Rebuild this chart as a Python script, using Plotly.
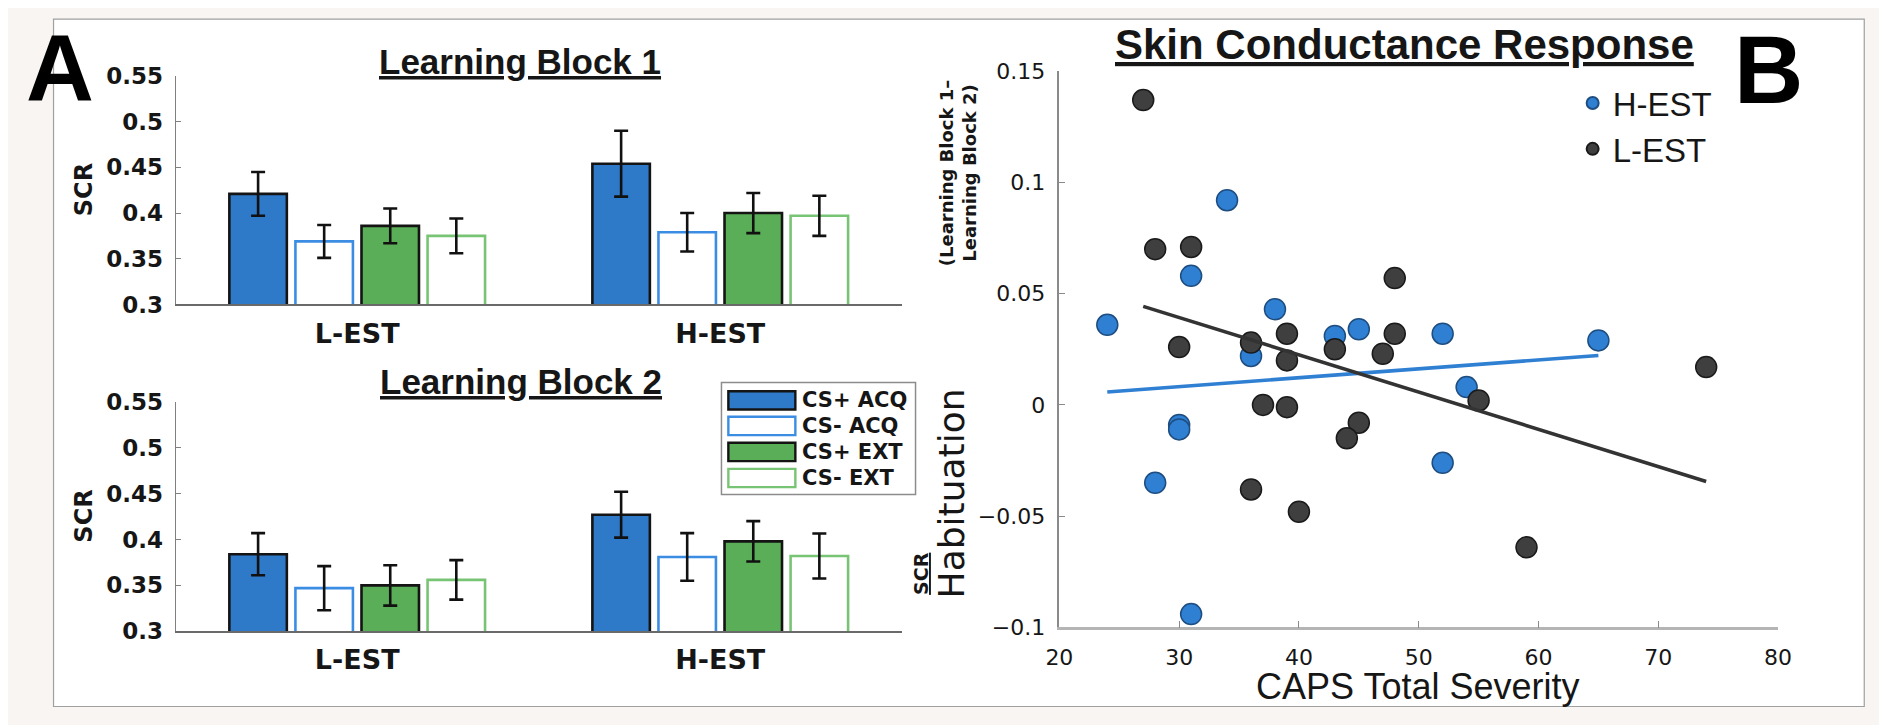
import plotly.graph_objects as go

W, H = 1887, 725
# the page body adds an 8px margin; positions below are given in window pixels
OFF_X, OFF_Y = 8, 8

# ---------------- data: panel A (bar chart) ----------------
groups = ["L-EST", "H-EST"]
group_pos = [1, 2]
conditions = ["CS+ ACQ", "CS- ACQ", "CS+ EXT", "CS- EXT"]

# Learning Block 1 (values for L-EST, H-EST)
b1_csp_acq = [0.421, 0.454]
b1_csm_acq = [0.369, 0.379]
b1_csp_ext = [0.386, 0.400]
b1_csm_ext = [0.375, 0.397]
b1_csp_acq_err = [0.024, 0.036]
b1_csm_acq_err = [0.018, 0.021]
b1_csp_ext_err = [0.019, 0.022]
b1_csm_ext_err = [0.019, 0.022]

# Learning Block 2
b2_csp_acq = [0.384, 0.427]
b2_csm_acq = [0.347, 0.381]
b2_csp_ext = [0.350, 0.398]
b2_csm_ext = [0.356, 0.382]
b2_csp_acq_err = [0.023, 0.025]
b2_csm_acq_err = [0.024, 0.026]
b2_csp_ext_err = [0.022, 0.022]
b2_csm_ext_err = [0.0215, 0.0245]

scr_ticks = [0.3, 0.35, 0.4, 0.45, 0.5, 0.55]
scr_ticktext = ["0.3", "0.35", "0.4", "0.45", "0.5", "0.55"]

# ---------------- data: panel B (scatter) ----------------
h_caps = [24, 34, 31, 38, 36, 43, 45, 52, 54, 30, 30, 28, 52, 65, 31]
h_hab = [0.036, 0.092, 0.058, 0.043, 0.022, 0.031, 0.034, 0.032, 0.008,
         -0.009, -0.011, -0.035, -0.026, 0.029, -0.094]
l_caps = [27, 28, 31, 30, 36, 39, 39, 43, 47, 48, 48, 55, 37, 39, 45, 44,
          36, 40, 59, 74]
l_hab = [0.137, 0.070, 0.071, 0.026, 0.028, 0.032, 0.020, 0.025, 0.023,
         0.032, 0.057, 0.002, 0.000, -0.001, -0.008, -0.015, -0.038,
         -0.048, -0.064, 0.017]
h_fit_caps = [24, 65]
h_fit_hab = [0.0058, 0.0222]
l_fit_caps = [27, 74]
l_fit_hab = [0.0443, -0.0344]

caps_ticks = [20, 30, 40, 50, 60, 70, 80]
hab_ticks = [-0.1, -0.05, 0, 0.05, 0.1, 0.15]
hab_ticktext = ["\u22120.1", "\u22120.05", "0", "0.05", "0.1", "0.15"]

# ---------------- styles ----------------
cond_fill = ["#2f79c9", "#ffffff", "#5aae57", "#ffffff"]
cond_edge = ["#141414", "#3b8de3", "#141414", "#78c475"]
blue = "#2f7fd3"
dark = "#3f3f3f"
TXT = "#161616"


def px(x):
    return (x - OFF_X) / W


def py(y):
    return 1 - (y - OFF_Y) / H


fig = go.Figure()

blocks = [
    ([b1_csp_acq, b1_csm_acq, b1_csp_ext, b1_csm_ext],
     [b1_csp_acq_err, b1_csm_acq_err, b1_csp_ext_err, b1_csm_ext_err], "x", "y"),
    ([b2_csp_acq, b2_csm_acq, b2_csp_ext, b2_csm_ext],
     [b2_csp_acq_err, b2_csm_acq_err, b2_csp_ext_err, b2_csm_ext_err], "x2", "y2"),
]
for means, errs, xa, ya in blocks:
    for i, cond in enumerate(conditions):
        fig.add_trace(go.Bar(
            x=group_pos, y=means[i], name=cond, showlegend=False,
            offsetgroup=str(i), xaxis=xa, yaxis=ya,
            marker=dict(color=cond_fill[i], line=dict(color=cond_edge[i], width=2.6)),
            error_y=dict(type="data", array=errs[i], color="#111111",
                         thickness=2.6, width=7),
        ))

fig.add_trace(go.Scatter(
    x=h_caps, y=h_hab, mode="markers", name="H-EST", xaxis="x3", yaxis="y3",
    marker=dict(size=21, color=blue, line=dict(color="#1e4d80", width=1.5)),
))
fig.add_trace(go.Scatter(
    x=l_caps, y=l_hab, mode="markers", name="L-EST", xaxis="x3", yaxis="y3",
    marker=dict(size=21, color=dark, line=dict(color="#1a1a1a", width=1.5)),
))
fig.add_trace(go.Scatter(
    x=h_fit_caps, y=h_fit_hab, mode="lines", showlegend=False, xaxis="x3", yaxis="y3",
    line=dict(color=blue, width=3.6),
))
fig.add_trace(go.Scatter(
    x=l_fit_caps, y=l_fit_hab, mode="lines", showlegend=False, xaxis="x3", yaxis="y3",
    line=dict(color="#333333", width=3.6),
))

bar_x_axis = dict(range=[0.5, 2.5], tickvals=group_pos, ticktext=groups,
                  showline=True, linecolor="#6a6a6a", linewidth=1.5, ticks="",
                  showgrid=False, zeroline=False, fixedrange=True,
                  ticklabelstandoff=4,
                  tickfont=dict(family="DejaVu Sans", size=27, color=TXT, weight="bold"))
bar_y_axis = dict(range=[0.3, 0.55], tickvals=scr_ticks, ticktext=scr_ticktext,
                  showline=True, linecolor="#808080", linewidth=1.2,
                  ticks="inside", ticklen=5, tickcolor="#808080",
                  showgrid=False, zeroline=False, ticklabelstandoff=7,
                  tickfont=dict(family="DejaVu Sans", size=23, color=TXT, weight="bold"))

fig.update_layout(
    width=W, height=H, autosize=False,
    margin=dict(l=0, r=0, t=0, b=0, pad=0),
    paper_bgcolor="#f8f5f3", plot_bgcolor="rgba(0,0,0,0)",
    barmode="group", bargap=0.272, bargroupgap=0.13,
    xaxis=dict(bar_x_axis, domain=[px(164), px(901)], anchor="y"),
    yaxis=dict(bar_y_axis, domain=[py(302), py(65)], anchor="x"),
    xaxis2=dict(bar_x_axis, domain=[px(164), px(901)], anchor="y2"),
    yaxis2=dict(bar_y_axis, domain=[py(641), py(403)], anchor="x2"),
    xaxis3=dict(range=[20, 80], tickvals=caps_ticks, showline=True,
                linecolor="#b4b4b4", linewidth=2.5, ticks="inside", ticklen=7,
                tickcolor="#8a8a8a", showgrid=False, zeroline=False,
                ticklabelstandoff=8,
                tickfont=dict(family="DejaVu Sans", size=22, color=TXT),
                domain=[px(1061), px(1790.5)], anchor="y3"),
    yaxis3=dict(range=[-0.1, 0.15], tickvals=hab_ticks, ticktext=hab_ticktext,
                showline=True, linecolor="#8a8a8a", linewidth=1.5,
                ticks="inside", ticklen=6, tickcolor="#8a8a8a",
                showgrid=False, zeroline=False, ticklabelstandoff=8,
                tickfont=dict(family="DejaVu Sans", size=22, color=TXT),
                domain=[py(637), py(60)], anchor="x3"),
    legend=dict(x=px(1582), y=py(64), xanchor="left", yanchor="top",
                bgcolor="rgba(0,0,0,0)", itemsizing="constant",
                font=dict(family="Liberation Sans", size=33, color=TXT)),
    showlegend=True,
)

shapes = [dict(type="rect", xref="paper", yref="paper", x0=px(40), x1=px(1878),
               y0=py(719), y1=py(6), fillcolor="white",
               line=dict(color="#a0a0a0", width=1.2), layer="below")]

# legend box for the bar chart (drawn as decoration)
shapes.append(dict(type="rect", xref="paper", yref="paper", x0=px(718), x1=px(915),
                   y0=py(499), y1=py(383), fillcolor="white",
                   line=dict(color="#8c8c8c", width=1.5), layer="above"))
annotations = []
row_y = [401.5, 428, 455, 482]
for i, cond in enumerate(conditions):
    shapes.append(dict(type="rect", xref="paper", yref="paper",
                       x0=px(725), x1=px(793), y0=py(row_y[i] + 9.5), y1=py(row_y[i] - 9.5),
                       fillcolor=cond_fill[i], line=dict(color=cond_edge[i], width=2.4),
                       layer="above"))
    annotations.append(dict(text="<b>%s</b>" % cond, xref="paper", yref="paper",
                            x=px(798), y=py(row_y[i]), xanchor="left", yanchor="middle",
                            showarrow=False,
                            font=dict(family="DejaVu Sans", size=21, color=TXT)))


def ann(text, x, y, size, family="Liberation Sans", angle=0, **kw):
    d = dict(text=text, xref="paper", yref="paper", x=px(x), y=py(y),
             xanchor="center", yanchor="middle", showarrow=False,
             textangle=angle, font=dict(family=family, size=size, color=kw.pop("color", TXT)))
    d.update(kw)
    annotations.append(d)


ann("<b>A</b>", 47, 57, 94, color="#000000")
ann("<b>B</b>", 1781, 58, 96, color="#000000")
ann("<b><u>Learning Block 1</u></b>", 514, 50, 35)
ann("<b><u>Learning Block 2</u></b>", 515, 382, 35)
ann("<b><u>Skin Conductance Response</u></b>", 1411, 32, 42)
ann("<b>SCR</b>", 71, 183.5, 24, family="DejaVu Sans", angle=-90)
ann("<b>SCR</b>", 71, 522, 24, family="DejaVu Sans", angle=-90)
ann("CAPS Total Severity", 1425, 698, 36)
ann("<u><b>SCR</b></u>", 921, 581, 19, family="DejaVu Sans", angle=-90)
ann("Habituation", 951, 498, 36, family="DejaVu Sans", angle=-90)
ann("<b>(Learning Block 1\u2013<br>Learning Block 2)</b>", 958, 165, 18,
    family="DejaVu Sans", angle=-90)

fig.update_layout(shapes=shapes, annotations=annotations)

fig.write_html("out.html")
